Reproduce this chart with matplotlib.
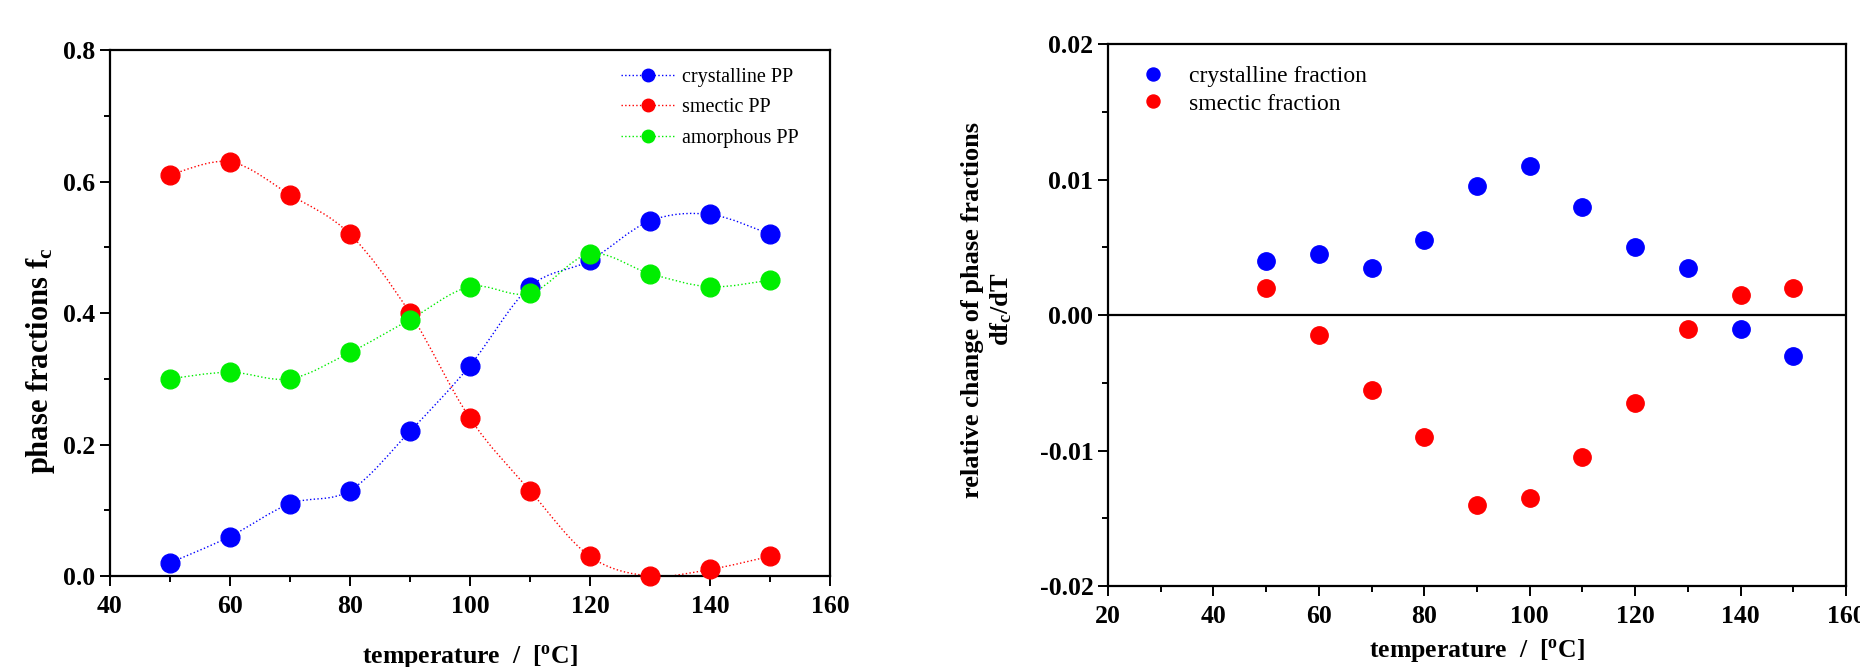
"""Phase fractions of PP vs temperature and their temperature derivative."""
import matplotlib
matplotlib.use("Agg")
import matplotlib.pyplot as plt
import numpy as np
from matplotlib.lines import Line2D
from matplotlib.patches import PathPatch
from matplotlib.path import Path
from matplotlib.ticker import MultipleLocator

plt.rcParams["font.family"] = ["Liberation Serif", "DejaVu Serif"]
plt.rcParams["mathtext.fontset"] = "custom"
plt.rcParams["mathtext.rm"] = "Liberation Serif:bold"
plt.rcParams["mathtext.it"] = "Liberation Serif:bold"
plt.rcParams["mathtext.bf"] = "Liberation Serif:bold"

# left panel: phase fractions
TEMP = [50, 60, 70, 80, 90, 100, 110, 120, 130, 140, 150]
CRYST = [0.02, 0.06, 0.11, 0.13, 0.22, 0.32, 0.44, 0.48, 0.54, 0.55, 0.52]
SMECT = [0.61, 0.63, 0.58, 0.52, 0.40, 0.24, 0.13, 0.03, 0.00, 0.01, 0.03]
AMORPH = [0.30, 0.31, 0.30, 0.34, 0.39, 0.44, 0.43, 0.49, 0.46, 0.44, 0.45]

# right panel: d f_c / dT
D_CRYST = [0.0040, 0.0045, 0.0035, 0.0055, 0.0095, 0.0110, 0.0080, 0.0050,
           0.0035, -0.0010, -0.0030]
D_SMECT = [0.0020, -0.0015, -0.0055, -0.0090, -0.0140, -0.0135, -0.0105,
           -0.0065, -0.0010, 0.0015, 0.0020]

BLUE, RED, GREEN = "#0000ff", "#ff0000", "#00ee00"


def smooth_path(x, y):
    """Catmull-Rom curve through the points, as cubic Bezier segments."""
    p = np.column_stack([x, y]).astype(float)
    n = len(p)
    verts = [p[0]]
    codes = [Path.MOVETO]
    for i in range(n - 1):
        p0 = p[max(i - 1, 0)]
        p1, p2 = p[i], p[i + 1]
        p3 = p[min(i + 2, n - 1)]
        verts += [p1 + (p2 - p0) / 6, p2 - (p3 - p1) / 6, p2]
        codes += [Path.CURVE4] * 3
    return Path(verts, codes)


def style_axes(ax):
    for s in ax.spines.values():
        s.set_linewidth(1.6)
    ax.tick_params(which="both", direction="out", top=False, right=False,
                   width=1.4, labelsize=18.5)
    ax.tick_params(which="major", length=7)
    ax.tick_params(which="minor", length=4.5)
    ax.tick_params(axis="x", which="major", pad=7)
    for lab in ax.get_xticklabels() + ax.get_yticklabels():
        lab.set_fontweight("bold")


fig = plt.figure(figsize=(18.6, 6.67), dpi=100)

# ---- left panel
ax1 = fig.add_axes([0.0591, 0.1364, 0.3871, 0.7886])
handles = []
for y, c, lab in [(CRYST, BLUE, "crystalline PP"),
                  (SMECT, RED, "smectic PP"),
                  (AMORPH, GREEN, "amorphous PP")]:
    ax1.add_patch(PathPatch(smooth_path(TEMP, y), fill=False, ls=":",
                            lw=1.0, edgecolor=c))
    ax1.plot(TEMP, y, "o", color=c, ms=13.5, mec=c, zorder=3, clip_on=False)
    handles.append(Line2D([], [], ls=":", lw=1.0, color=c, marker="o",
                          ms=9, label=lab))
ax1.set_xlim(40, 160)
ax1.set_ylim(0, 0.8)
ax1.xaxis.set_major_locator(MultipleLocator(20))
ax1.xaxis.set_minor_locator(MultipleLocator(10))
ax1.yaxis.set_major_locator(MultipleLocator(0.2))
ax1.yaxis.set_minor_locator(MultipleLocator(0.1))
ax1.yaxis.set_major_formatter(plt.FormatStrFormatter("%.1f"))
style_axes(ax1)
ax1.set_xlabel(r"temperature  /  [$^{\rm o}$C]", fontsize=18.5,
               fontweight="bold", labelpad=18)
ax1.set_ylabel(r"phase fractions f$_{\rm c}$", fontsize=22,
               fontweight="bold")
ax1.yaxis.set_label_coords(-0.073, 0.41)
ax1.legend(handles=handles, loc="upper right", frameon=False, fontsize=14.5,
           handlelength=2.7, handletextpad=0.35, labelspacing=0.55,
           bbox_to_anchor=(0.982, 1.0))

# ---- right panel
ax2 = fig.add_axes([0.5957, 0.1214, 0.3968, 0.8126])
ax2.axhline(0, color="black", lw=1.6, zorder=1)
ax2.plot(TEMP, D_CRYST, "o", color=BLUE, ms=12.5, label="crystalline fraction",
         zorder=3)
ax2.plot(TEMP, D_SMECT, "o", color=RED, ms=12.5, label="smectic fraction",
         zorder=3)
ax2.set_xlim(20, 160)
ax2.set_ylim(-0.02, 0.02)
ax2.xaxis.set_major_locator(MultipleLocator(20))
ax2.xaxis.set_minor_locator(MultipleLocator(10))
ax2.yaxis.set_major_locator(MultipleLocator(0.01))
ax2.yaxis.set_minor_locator(MultipleLocator(0.005))
ax2.yaxis.set_major_formatter(plt.FuncFormatter(
    lambda v, _: "0.00" if abs(v) < 1e-12 else f"{v:.2f}"))
style_axes(ax2)
ax2.set_xlabel(r"temperature  /  [$^{\rm o}$C]", fontsize=18.5,
               fontweight="bold", labelpad=6)
ax2.set_ylabel("relative change of phase fractions\n"
               r"df$_{\rm c}$/dT", fontsize=19, fontweight="bold",
               linespacing=1.2)
ax2.yaxis.set_label_coords(-0.128, 0.51)
ax2.legend(loc="upper left", frameon=False, fontsize=17, markerscale=0.75,
           handletextpad=0.55, labelspacing=0.27, bbox_to_anchor=(0.0, 1.0))

fig.savefig("out.png", dpi=100)
